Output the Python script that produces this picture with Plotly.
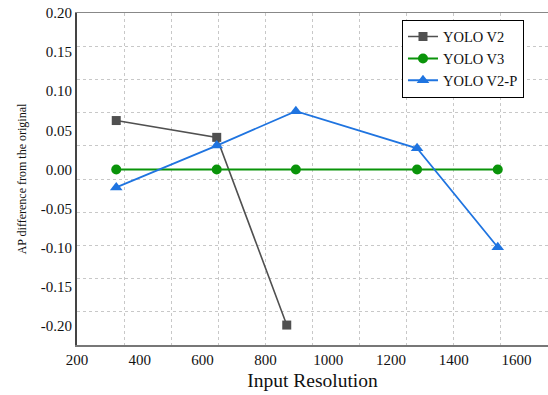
import plotly.graph_objects as go

v2_x = [325, 645, 868]
v2_y = [0.0625, 0.041, -0.199]
v3_x = [325, 645, 897, 1283, 1540]
v3_y = [0.0, 0.0, 0.0, 0.0, 0.0]
v2p_x = [325, 645, 897, 1283, 1540]
v2p_y = [-0.023, 0.0305, 0.0745, 0.027, -0.0995]

x_ticks = [200, 400, 600, 800, 1000, 1200, 1400, 1600]
y_ticks = [0.20, 0.15, 0.10, 0.05, 0.00, -0.05, -0.10, -0.15, -0.20]

FONT = "Liberation Serif, Times New Roman, serif"

fig = go.Figure()
fig.add_trace(go.Scatter(x=v2_x, y=v2_y, name="YOLO V2", mode="lines+markers",
                         line=dict(color="#505050", width=1.6),
                         marker=dict(symbol="square", size=9, color="#505050")))
fig.add_trace(go.Scatter(x=v3_x, y=v3_y, name="YOLO V3", mode="lines+markers",
                         line=dict(color="#0a940a", width=2),
                         marker=dict(symbol="circle", size=10, color="#0a940a")))
fig.add_trace(go.Scatter(x=v2p_x, y=v2p_y, name="YOLO V2-P", mode="lines+markers",
                         line=dict(color="#1f74e0", width=1.8),
                         marker=dict(symbol="triangle-up", size=11, color="#1f74e0")))
# empty trace to establish the grid overlay subplot
fig.add_trace(go.Scatter(x=[None], y=[None], xaxis="x2", yaxis="y2",
                         showlegend=False, hoverinfo="skip"))

tf = dict(family=FONT, size=15, color="#111")

fig.update_layout(
    width=548, height=395,
    margin=dict(l=77, r=0, t=13, b=50, autoexpand=False),
    plot_bgcolor="white", paper_bgcolor="white",
    font=dict(family=FONT, color="#111", size=14),
    showlegend=True,
    legend=dict(x=0.69, y=0.98, xanchor="left", yanchor="top",
                bgcolor="white", bordercolor="black", borderwidth=1,
                font=dict(family=FONT, size=14.5, color="#111"),
                tracegroupgap=0, itemwidth=30),
    xaxis=dict(range=[200, 1700], tickvals=x_ticks, ticktext=[str(v) for v in x_ticks],
               showgrid=False, zeroline=False, showline=True, linecolor="#777",
               linewidth=2, ticks="", tickfont=tf, automargin=False,
               title=dict(text="Input Resolution", font=dict(family=FONT, size=19.5), standoff=6)),
    yaxis=dict(range=[-0.2245, 0.2], tickvals=y_ticks,
               ticktext=[f"{v:.2f}" for v in y_ticks],
               showgrid=False, zeroline=False, showline=True, linecolor="#444",
               linewidth=2, ticks="", tickfont=tf, automargin=False,
               title=dict(text="AP difference from the original", font=dict(family=FONT, size=12), standoff=12)),
    xaxis2=dict(range=[0, 10], dtick=1, overlaying="x", showgrid=True,
                gridcolor="#c8c8c8", griddash="dot", gridwidth=1,
                showticklabels=False, zeroline=False, showline=True, side="top",
                linecolor="#888", linewidth=1, ticks="", automargin=False),
    yaxis2=dict(range=[0, 10], dtick=1, overlaying="y", showgrid=True,
                gridcolor="#c8c8c8", griddash="dot", gridwidth=1,
                showticklabels=False, zeroline=False, showline=False, ticks="", automargin=False),
)

fig.write_html("out.html", config={"displayModeBar": False},
               post_script="document.body.style.margin='0';")
